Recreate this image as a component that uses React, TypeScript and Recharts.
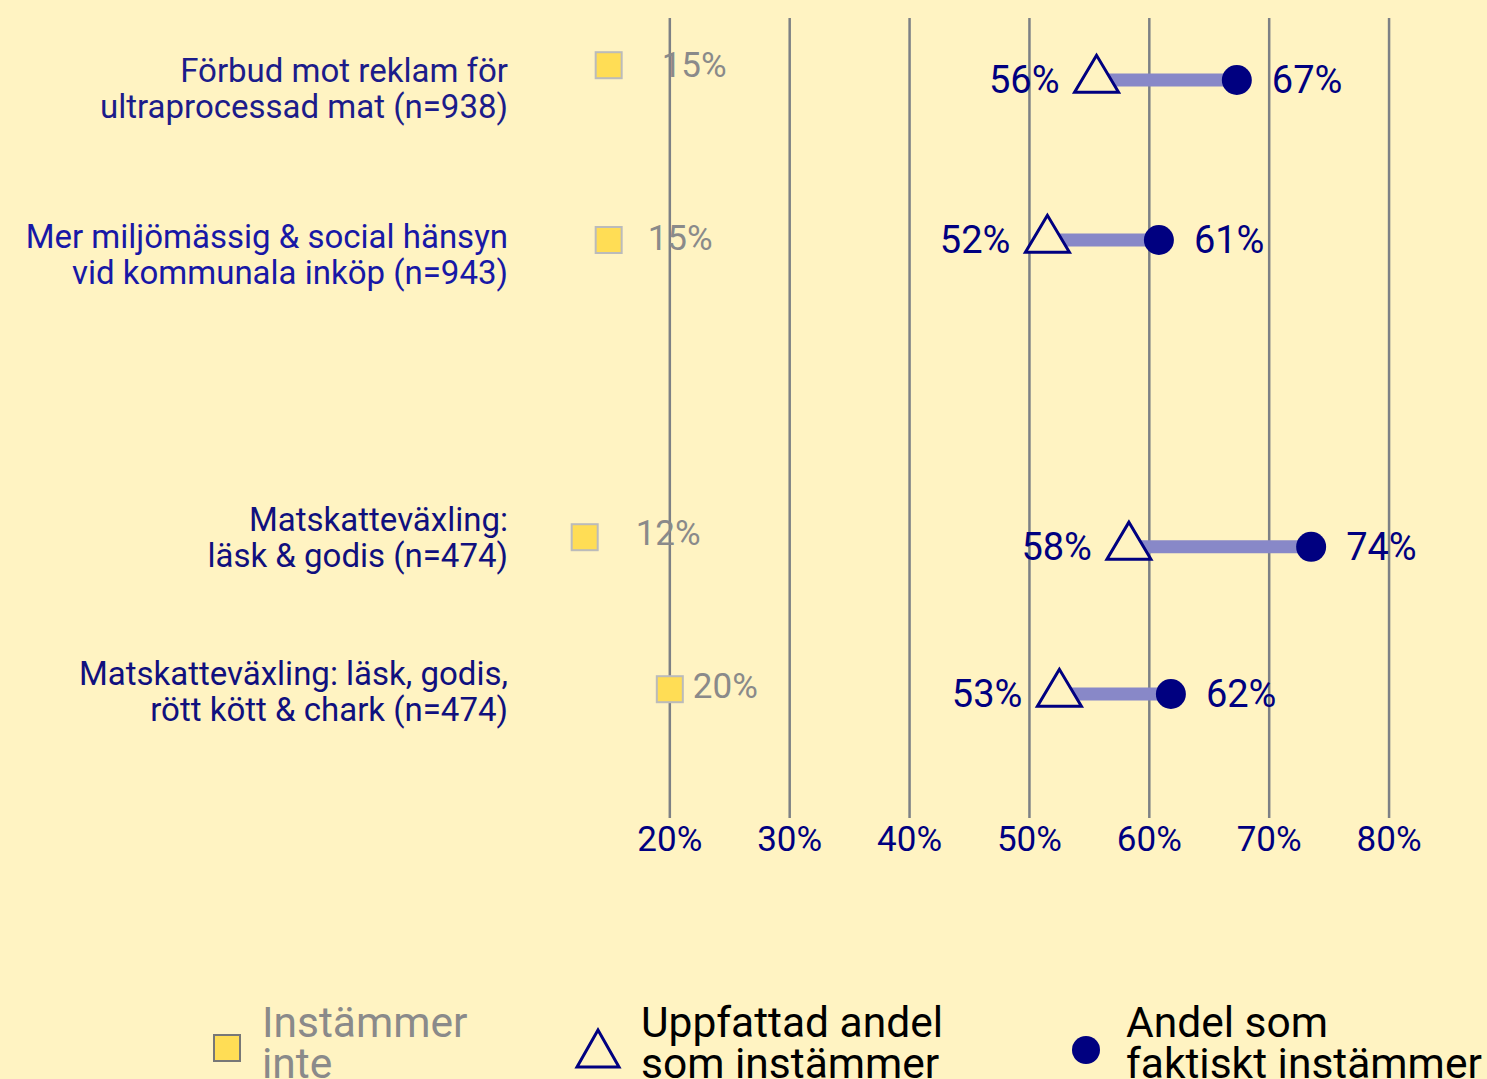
import React from "react";
import {
  ScatterChart,
  Scatter,
  XAxis,
  YAxis,
  CartesianGrid,
} from "recharts";

// Dumbbell chart: perceived vs actual share agreeing, plus share disagreeing.

const CATEGORIES = [
  ["Förbud mot reklam för", "ultraprocessad mat (n=938)"],
  ["Mer miljömässig & social hänsyn", "vid kommunala inköp (n=943)"],
  ["Matskatteväxling:", "läsk & godis (n=474)"],
  ["Matskatteväxling: läsk, godis,", "rött kött & chark (n=474)"],
];

// vertical placement of each row (0 = top, 100 = bottom)
const ROW_Y = [7.75, 27.75, 66.1, 84.5];
const SQUARE_Y = [5.9, 27.75, 64.9, 83.9];
const LABEL_Y = [8.8, 29.5, 64.9, 84.2];

const PERCEIVED = [55.6, 51.5, 58.3, 52.5];
const PERCEIVED_LABELS = ["56%", "52%", "58%", "53%"];
const ACTUAL = [67.3, 60.8, 73.5, 61.8];
const ACTUAL_LABELS = ["67%", "61%", "74%", "62%"];
const DISAGREE = [14.9, 14.9, 12.9, 20.0];
const DISAGREE_LABELS = ["15%", "15%", "12%", "20%"];

const X_TICKS = [20, 30, 40, 50, 60, 70, 80];

// label nudges for the "Instämmer inte" texts (px)
const SQUARE_LABEL_DX = [53, 39, 51, 23];
const SQUARE_LABEL_DY = [0, -2, -4, -3];

const BG = "#FFF3C2";
const NAVY = "#000080";
const SEG = "#8888C8";
const GRID = "#7d8085";
const SQUARE_FILL = "#FFDD55";
const GREY_TEXT = "#8a8a8a";
const CAT_COLORS = ["#1c1c8a", "#1818a6", "#10107e", "#10107e"];

const FONT = "Roboto, 'Noto Sans', sans-serif";

const perceivedData = PERCEIVED.map((x, i) => ({ x, y: ROW_Y[i], label: PERCEIVED_LABELS[i] }));
const actualData = ACTUAL.map((x, i) => ({ x, y: ROW_Y[i], label: ACTUAL_LABELS[i] }));
const disagreeData = DISAGREE.map((x, i) => ({ x, y: SQUARE_Y[i], label: DISAGREE_LABELS[i], i }));

const TriangleShape = (props: any) => {
  const { cx, cy, payload } = props;
  const w = 44;
  const h = 37;
  const pts = `${cx},${cy - (2 * h) / 3} ${cx - w / 2},${cy + h / 3} ${cx + w / 2},${cy + h / 3}`;
  return (
    <g>
      <polygon points={pts} fill={BG} stroke={NAVY} strokeWidth={3} strokeLinejoin="miter" />
      <text x={cx - 37} y={cy} textAnchor="end" dominantBaseline="central" fontSize={38} fill={NAVY} fontFamily={FONT}>
        {payload.label}
      </text>
    </g>
  );
};

const DotShape = (props: any) => {
  const { cx, cy, payload } = props;
  return (
    <g>
      <circle cx={cx} cy={cy} r={15} fill={NAVY} />
      <text x={cx + 35} y={cy} textAnchor="start" dominantBaseline="central" fontSize={38} fill={NAVY} fontFamily={FONT}>
        {payload.label}
      </text>
    </g>
  );
};

const SquareShape = (props: any) => {
  const { cx, cy, payload } = props;
  const i = payload.i;
  return (
    <g>
      <rect x={cx - 13} y={cy - 13} width={26} height={26} fill={SQUARE_FILL} stroke="#bbbbbb" strokeWidth={2} />
      <text
        x={cx + SQUARE_LABEL_DX[i]}
        y={cy + SQUARE_LABEL_DY[i]}
        textAnchor="start"
        dominantBaseline="central"
        fontSize={35}
        fill={GREY_TEXT}
        fontFamily={FONT}
      >
        {payload.label}
      </text>
    </g>
  );
};

const CategoryTick = (props: any) => {
  const { x, y, index } = props;
  const lines = CATEGORIES[index] || [];
  return (
    <g>
      {lines.map((t, k) => (
        <text
          key={k}
          x={x + 18}
          y={y + (k === 0 ? -18 : 18)}
          textAnchor="end"
          dominantBaseline="central"
          fontSize={33}
          fill={CAT_COLORS[index]}
          fontFamily={FONT}
        >
          {t}
        </text>
      ))}
    </g>
  );
};

const Legend = () => (
  <svg width={1487} height={1079} style={{ position: "absolute", left: 0, top: 0, pointerEvents: "none" }}>
    <rect x={214} y={1035} width={26} height={26} fill={SQUARE_FILL} stroke="#777777" strokeWidth={2} />
    <text x={262} y={1037} fontSize={42.5} fill={GREY_TEXT} fontFamily={FONT}>Instämmer</text>
    <text x={262} y={1078} fontSize={42.5} fill={GREY_TEXT} fontFamily={FONT}>inte</text>

    <polygon points="598,1030 577,1067 619,1067" fill={BG} stroke={NAVY} strokeWidth={3} />
    <text x={641} y={1037} fontSize={42.5} fill="#000" fontFamily={FONT}>Uppfattad andel</text>
    <text x={641} y={1078} fontSize={42.5} fill="#000" fontFamily={FONT}>som instämmer</text>

    <circle cx={1086} cy={1050} r={14} fill={NAVY} />
    <text x={1126} y={1037} fontSize={42.5} fill="#000" fontFamily={FONT}>Andel som</text>
    <text x={1126} y={1078} fontSize={42.5} fill="#000" fontFamily={FONT}>faktiskt instämmer</text>
  </svg>
);

export default function App() {
  return (
    <div
      style={{
        position: "absolute",
        left: 0,
        top: 0,
        width: 1487,
        height: 1079,
        background: BG,
        fontFamily: FONT,
        overflow: "hidden",
      }}
    >
      <ScatterChart width={1487} height={1079} margin={{ top: 18, right: 38, bottom: 201, left: 0 }}>
        <CartesianGrid
          horizontal={false}
          verticalValues={X_TICKS}
          stroke={GRID}
          strokeWidth={2.5}
        />
        <XAxis
          type="number"
          dataKey="x"
          domain={[5, 85]}
          ticks={X_TICKS}
          tickFormatter={(v: number) => `${v}%`}
          axisLine={false}
          tickLine={false}
          tickSize={0}
          tickMargin={8}
          height={60}
          tick={{ fill: NAVY, fontSize: 35, fontFamily: FONT }}
        />
        <YAxis
          type="number"
          dataKey="y"
          domain={[0, 100]}
          reversed
          ticks={LABEL_Y}
          axisLine={false}
          tickLine={false}
          tickSize={0}
          tickMargin={0}
          width={490}
          tick={<CategoryTick />}
        />
        {ROW_Y.map((y, i) => (
          <Scatter
            key={`seg-${i}`}
            data={[
              { x: PERCEIVED[i], y },
              { x: ACTUAL[i], y },
            ]}
            line={{ stroke: SEG, strokeWidth: 13 }}
            shape={() => <g />}
            isAnimationActive={false}
            legendType="none"
          />
        ))}
        <Scatter data={perceivedData} shape={<TriangleShape />} isAnimationActive={false} />
        <Scatter data={actualData} shape={<DotShape />} isAnimationActive={false} />
        <Scatter data={disagreeData} shape={<SquareShape />} isAnimationActive={false} />
      </ScatterChart>
      <Legend />
    </div>
  );
}
